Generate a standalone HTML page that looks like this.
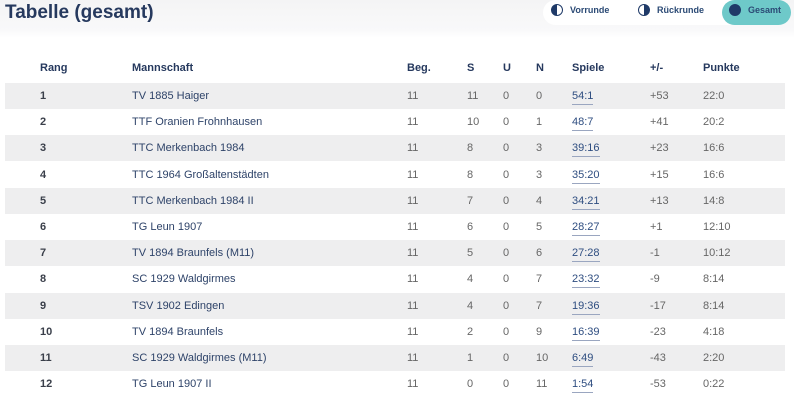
<!DOCTYPE html>
<html><head><meta charset="utf-8"><style>
body{margin:0;width:794px;height:400px;overflow:hidden;background:#fff;font-family:"Liberation Sans",sans-serif;position:relative}
.hdr{position:absolute;left:0;top:0;width:794px;height:38px;background:linear-gradient(#f4f4f5,#f9f9fa 80%,#fff)}
.title{position:absolute;left:5px;top:2px;font-size:19px;font-weight:bold;color:#26395e}
.pills{position:absolute;left:543px;top:0;width:248px;height:25px;background:#fff;border-radius:13px}
.pill{position:absolute;top:4px;font-size:9px;font-weight:bold;color:#2b4a75;display:flex;align-items:center;gap:7px}
.ic{width:12px;height:12px;border-radius:50%;border:1.3px solid #1f3a68;box-sizing:border-box;background:linear-gradient(90deg,#1f3a68 50%,#fff 50%)}
.ic.r{background:linear-gradient(90deg,#fff 50%,#1f3a68 50%)}
.ic.f{background:#1f3a68}
.gs{position:absolute;left:722px;top:0;width:69px;height:25px;background:#6ec9c9;border-radius:13px}
.row{position:absolute;left:5px;width:780px;height:26px}
.row.s{background:#eeeeef}
.c{position:absolute;font-size:11px;color:#666;top:7px}
.t{color:#2e4369}
.b{font-weight:bold;color:#3a3f4a}
.sp{color:#2e4d80;border-bottom:1px solid #9aa6c0;padding-bottom:2px}
.h{position:absolute;top:62px;font-size:11px;font-weight:bold;color:#26395e}
</style></head><body>
<div class="hdr"></div>
<div class="title">Tabelle (gesamt)</div>
<div class="pills"></div>
<div class="gs"></div>
<div class="pill" style="left:551px"><span class="ic"></span>Vorrunde</div>
<div class="pill" style="left:638px"><span class="ic r"></span>Rückrunde</div>
<div class="pill" style="left:729px"><span class="ic f"></span>Gesamt</div>
<div class="h" style="left:40px">Rang</div>
<div class="h" style="left:132px">Mannschaft</div>
<div class="h" style="left:407px">Beg.</div>
<div class="h" style="left:467px">S</div>
<div class="h" style="left:503px">U</div>
<div class="h" style="left:536px">N</div>
<div class="h" style="left:572px">Spiele</div>
<div class="h" style="left:650px">+/-</div>
<div class="h" style="left:703px">Punkte</div>
<div id="rows"></div>
<script>
var d=[["1","TV 1885 Haiger","11","11","0","0","54:1","+53","22:0"],
["2","TTF Oranien Frohnhausen","11","10","0","1","48:7","+41","20:2"],
["3","TTC Merkenbach 1984","11","8","0","3","39:16","+23","16:6"],
["4","TTC 1964 Großaltenstädten","11","8","0","3","35:20","+15","16:6"],
["5","TTC Merkenbach 1984 II","11","7","0","4","34:21","+13","14:8"],
["6","TG Leun 1907","11","6","0","5","28:27","+1","12:10"],
["7","TV 1894 Braunfels (M11)","11","5","0","6","27:28","-1","10:12"],
["8","SC 1929 Waldgirmes","11","4","0","7","23:32","-9","8:14"],
["9","TSV 1902 Edingen","11","4","0","7","19:36","-17","8:14"],
["10","TV 1894 Braunfels","11","2","0","9","16:39","-23","4:18"],
["11","SC 1929 Waldgirmes (M11)","11","1","0","10","6:49","-43","2:20"],
["12","TG Leun 1907 II","11","0","0","11","1:54","-53","0:22"]];
var xs=[35,127,402,462,498,531,567,645,698],h="";
d.forEach(function(r,i){h+='<div class="row'+(i%2==0?' s':'')+'" style="top:'+(83+i*26.2)+'px">';
r.forEach(function(v,j){var cl=j==0?' b':j==1?' t':'';h+='<div class="c'+cl+'" style="left:'+xs[j]+'px">'+(j==6?'<span class="sp">'+v+'</span>':v)+'</div>';});h+='</div>';});
document.getElementById('rows').innerHTML=h;
</script>
</body></html>
